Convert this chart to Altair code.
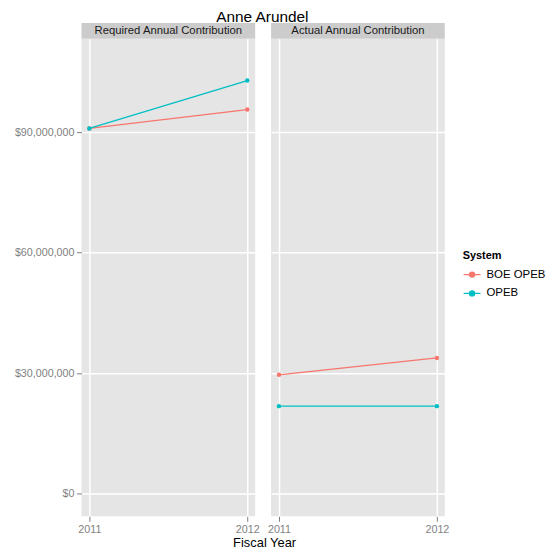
import altair as alt
import pandas as pd

years = [2011, 2012]
systems = ["BOE OPEB", "OPEB"]
panels = ["Required Annual Contribution", "Actual Annual Contribution"]
required_boe = [90_900_000, 95_600_000]
required_opeb = [90_900_000, 102_800_000]
actual_boe = [29_600_000, 33_800_000]
actual_opeb = [21_800_000, 21_800_000]
y_ticks = [0, 30_000_000, 60_000_000, 90_000_000]
colors = ["#F8766D", "#00BFC4"]

rows = []
for panel_name, series in zip(panels, [[required_boe, required_opeb], [actual_boe, actual_opeb]]):
    for sys_name, vals in zip(systems, series):
        for yr, v in zip(years, vals):
            rows.append({"panel": panel_name, "System": sys_name, "year": yr, "value": v})
df = pd.DataFrame(rows)

W, H = 175, 481
STRIP = 16
FONT = "Liberation Sans"
legend_path = "M-1,0H1M-0.3,0A0.3,0.3 0 1,0 0.3,0A0.3,0.3 0 1,0 -0.3,0Z"

color = alt.Color(
    "System:N",
    scale=alt.Scale(domain=systems, range=colors),
    legend=alt.Legend(
        title="System",
        orient="none",
        legendX=384,
        legendY=213,
        symbolType=legend_path,
        symbolSize=289,
        symbolStrokeWidth=1.3,
        titleFont=FONT,
        titleFontSize=11,
        titleFontWeight="bold",
        titleColor="black",
        labelFont=FONT,
        labelFontSize=11.5,
        labelColor="black",
        rowPadding=4,
        titlePadding=4,
        labelOffset=5,
    ),
)


def make_panel(name, first):
    base = alt.Chart(df).transform_filter(alt.datum.panel == name)
    x = alt.X(
        "year:Q",
        scale=alt.Scale(domain=[2010.95, 2012.05], nice=False, zero=False),
        axis=alt.Axis(
            values=years,
            format="d",
            title="Fiscal Year" if first else None,
            titleX=184,
            titleY=26,
            titleAlign="center",
            titleBaseline="middle",
            titleFont=FONT,
            titleFontSize=13,
            titleFontWeight="normal",
            titleColor="black",
        ),
    )
    if first:
        yaxis = alt.Axis(values=y_ticks, format="$,.0f", title=None)
    else:
        yaxis = alt.Axis(values=y_ticks, title=None, labels=False, ticks=False,
                         minExtent=0, maxExtent=0)
    y = alt.Y(
        "value:Q",
        scale=alt.Scale(domain=[-5_600_000, 113_200_000], nice=False, zero=False),
        axis=yaxis,
    )
    lines = base.mark_line(strokeWidth=1.3).encode(x=x, y=y, color=color)
    pts = base.mark_point(filled=True, size=20, opacity=1).encode(x=x, y=y, color=color)
    strip_df = pd.DataFrame({"label": [name]})
    strip = alt.Chart(strip_df).mark_rect(color="#CCCCCC").encode(
        x=alt.value(0), x2=alt.value(W), y=alt.value(-STRIP), y2=alt.value(0)
    )
    strip_text = alt.Chart(strip_df).mark_text(
        font=FONT, fontSize=11.4, color="#1A1A1A", baseline="middle"
    ).encode(text="label:N", x=alt.value(W / 2), y=alt.value(-STRIP / 2))
    return alt.layer(lines, pts, strip, strip_text).properties(width=W, height=H)


chart = (
    alt.hconcat(make_panel(panels[0], True), make_panel(panels[1], False),
                spacing=16, bounds="flush")
    .resolve_scale(color="shared")
    .properties(
        title=alt.TitleParams(
            "Anne Arundel",
            font=FONT,
            fontSize=15.5,
            fontWeight="normal",
            color="black",
            anchor="middle",
            offset=-2.5,
            dx=-18,
        ),
        padding={"left": 6, "top": 0, "right": 5, "bottom": 5},
        background="white",
    )
    .configure_view(fill="#E5E5E5", stroke=None)
    .configure_axis(
        domain=False,
        gridColor="white",
        gridWidth=1.5,
        tickColor="#7F7F7F",
        tickSize=5,
        labelColor="#7F7F7F",
        labelFont=FONT,
        labelFontSize=10.8,
        labelPadding=2.5,
    )
)

chart.save("out.html", embed_options={"renderer": "svg", "actions": False})
